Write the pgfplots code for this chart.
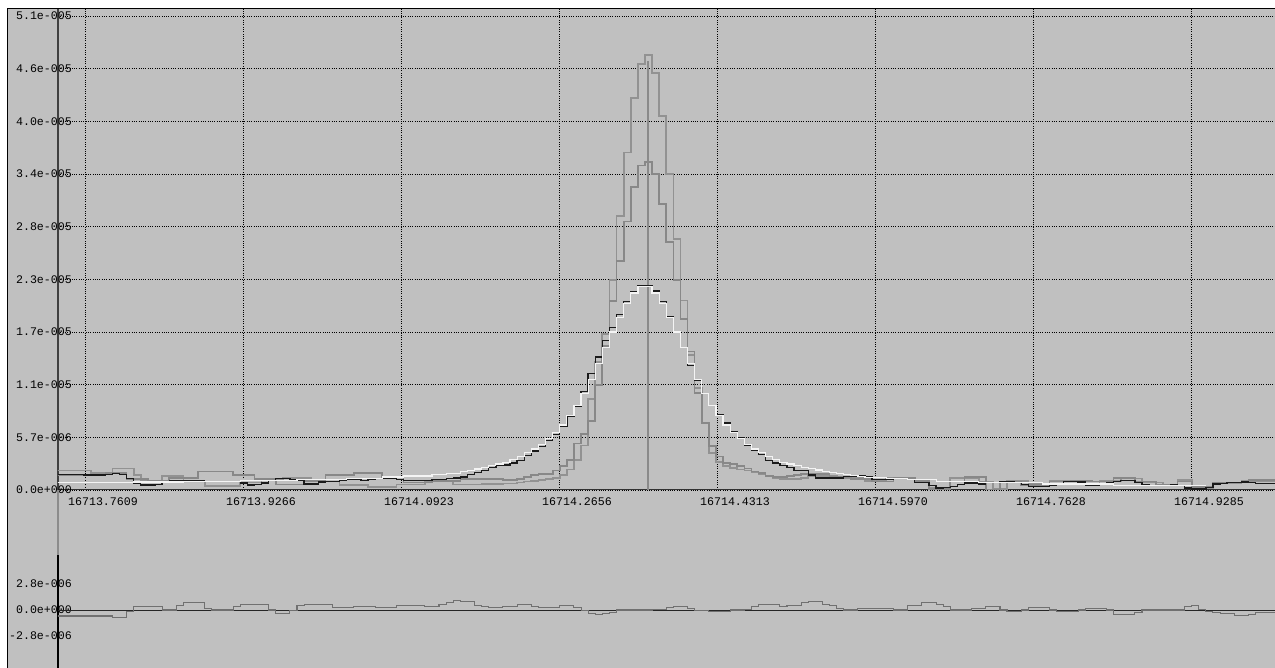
\documentclass[border=0pt]{standalone}
\usepackage{pgfplots}
\pgfplotsset{compat=1.18}
\usepackage{pgfplotstable}
\usepackage{fontspec}
\setmainfont{Liberation Mono}
\definecolor{bgc}{HTML}{C0C0C0}
\definecolor{tallc}{HTML}{929292}
\definecolor{midc}{HTML}{888888}
\definecolor{datac}{HTML}{1A1A1A}
\definecolor{fitc}{HTML}{F4F4F4}
\definecolor{vlc}{HTML}{8A8A8A}
\definecolor{resc}{HTML}{707070}
\pgfplotstableread{
u T M D F R
0.7301 2.1 1.6 1.7 0.8 -0.65
0.7376 2.1 1.6 1.7 0.8 -0.65
0.7450 2.1 1.6 1.7 0.8 -0.65
0.7525 2.1 1.6 1.65 0.8 -0.65
0.7599 2.1 1.6 1.6 0.8 -0.65
0.7674 1.8 1.6 1.6 0.8 -0.65
0.7748 1.8 1.6 1.6 0.8 -0.65
0.7823 1.8 1.8 1.7 0.8 -0.65
0.7897 2.3 1.8 1.75 0.8 -0.8
0.7971 2.3 1.8 1.7 0.8 -0.8
0.8046 2.3 1.2 1.2 0.8 -0.2
0.8120 1.6 1.2 0.7 0.85 0.35
0.8195 1.0 1.2 0.55 0.85 0.35
0.8269 1.0 1.0 0.55 0.85 0.35
0.8344 1.0 1.0 0.6 0.85 0.35
0.8418 1.5 1.0 0.8 0.85 0.0
0.8493 1.5 1.3 1.0 0.85 0.0
0.8567 1.5 1.3 1.0 0.85 0.45
0.8642 0.9 1.3 1.0 0.95 0.8
0.8716 0.9 1.3 1.0 0.95 0.8
0.8791 0.9 2.0 1.0 0.95 0.8
0.8865 0.4 2.0 0.95 0.95 0.2
0.8940 0.4 2.0 0.9 0.95 0.0
0.9014 0.4 2.0 0.9 0.95 0.0
0.9089 0.4 2.0 0.9 0.95 0.0
0.9163 0.4 1.6 0.9 0.95 0.4
0.9238 0.8 1.6 0.75 1.05 0.6
0.9312 0.8 1.6 0.55 1.05 0.6
0.9387 0.8 1.2 0.6 1.05 0.6
0.9461 1.1 1.2 0.75 1.05 0.6
0.9536 1.1 1.2 1.0 1.05 0.0
0.9610 1.1 0.6 1.2 1.05 -0.35
0.9685 1.3 0.6 1.2 1.05 -0.35
0.9759 1.3 0.6 1.15 1.05 -0.1
0.9833 1.3 0.6 1.0 1.15 0.5
0.9908 1.3 1.0 0.65 1.15 0.6
0.9982 0.9 1.0 0.65 1.15 0.6
1.0057 0.9 1.0 0.85 1.15 0.6
1.0131 0.9 1.6 0.9 1.15 0.6
1.0206 0.9 1.6 0.95 1.15 0.3
1.0280 0.5 1.6 1.05 1.15 0.3
1.0355 0.5 1.6 1.1 1.25 0.3
1.0429 0.5 1.8 1.1 1.25 0.4
1.0504 0.5 1.8 1.05 1.25 0.4
1.0578 0.3 1.8 1.1 1.25 0.4
1.0653 0.3 1.8 1.2 1.25 0.3
1.0727 0.3 1.4 1.25 1.4 0.3
1.0802 0.3 1.4 1.25 1.4 0.3
1.0876 0.6 1.4 1.15 1.4 0.5
1.0951 0.6 0.8 1.05 1.5 0.5
1.1025 0.6 0.8 1.0 1.5 0.5
1.1100 0.6 0.8 1.0 1.5 0.5
1.1174 0.9 0.8 1.05 1.5 0.4
1.1249 0.9 1.0 1.15 1.65 0.4
1.1323 0.9 1.0 1.15 1.65 0.6
1.1398 0.9 1.0 1.2 1.8 0.85
1.1472 0.6 1.0 1.3 1.8 1.0
1.1547 0.6 1.2 1.4 1.95 0.95
1.1621 0.6 1.2 1.65 2.1 0.9
1.1695 0.6 1.2 1.85 2.25 0.5
1.1770 0.65 1.2 2.1 2.4 0.35
1.1844 0.65 1.2 2.45 2.6 0.3
1.1919 0.65 1.2 2.65 2.8 0.3
1.1993 0.7 1.1 2.7 3.0 0.35
1.2068 0.7 1.1 2.9 3.3 0.35
1.2142 0.8 1.2 3.2 3.6 0.6
1.2217 0.9 1.4 3.7 4.0 0.6
1.2291 1.0 1.6 4.2 4.4 0.4
1.2366 1.1 1.7 4.7 4.9 0.3
1.2440 1.2 1.7 5.3 5.5 0.3
1.2515 1.3 2.1 6.0 6.2 0.3
1.2589 1.6 2.6 6.8 7.0 0.45
1.2664 2.2 3.2 7.9 8.0 0.45
1.2738 3.2 5.0 9.0 9.1 0.25
1.2813 4.8 6.0 10.6 10.4 -0.1
1.2887 9.8 7.4 12.5 11.9 -0.4
1.2962 13.8 11.3 14.3 13.6 -0.5
1.3036 16.8 15.5 16.1 15.3 -0.4
1.3111 22.6 20.3 17.5 17.0 -0.3
1.3185 29.5 24.6 18.9 18.6 0.0
1.3260 36.3 28.9 20.3 20.1 0.0
1.3334 42.2 32.6 21.3 21.2 0.0
1.3409 45.8 34.9 22.0 21.9 0.0
1.3483 46.8 35.3 22.0 21.9 0.0
1.3557 44.9 34.0 21.4 21.2 0.05
1.3632 40.2 30.8 20.3 20.1 0.05
1.3706 34.0 26.7 18.7 18.6 0.3
1.3781 27.0 22.6 17.0 17.0 0.35
1.3855 20.4 18.4 15.3 15.3 0.35
1.3930 14.5 14.9 13.4 13.6 0.15
1.4004 11.0 10.4 11.8 11.9 -0.05
1.4079 7.2 7.2 10.4 10.4 -0.05
1.4153 4.0 4.7 9.1 9.1 -0.2
1.4228 3.0 3.6 8.1 8.0 -0.2
1.4302 2.6 2.9 7.2 7.0 -0.2
1.4377 2.4 2.8 6.3 6.2 0.0
1.4451 2.2 2.6 5.6 5.5 0.0
1.4526 2.1 2.3 4.8 4.9 0.1
1.4600 1.9 2.0 4.3 4.4 0.4
1.4675 1.7 1.8 3.8 4.0 0.6
1.4749 1.5 1.5 3.2 3.6 0.6
1.4824 1.3 1.4 2.9 3.3 0.6
1.4898 1.2 1.4 2.6 3.0 0.4
1.4973 1.2 1.5 2.4 2.8 0.5
1.5047 1.2 1.6 2.1 2.6 0.5
1.5122 1.3 1.7 2.1 2.45 0.8
1.5196 1.5 1.7 1.6 2.3 0.9
1.5271 1.5 1.7 1.3 2.15 0.9
1.5345 1.5 1.7 1.3 2.0 0.6
1.5420 1.5 1.4 1.3 1.85 0.5
1.5494 1.3 1.4 1.3 1.75 0.2
1.5568 1.3 1.4 1.45 1.65 0.0
1.5643 1.3 1.2 1.5 1.55 0.0
1.5717 1.3 1.2 1.55 1.45 0.15
1.5792 1.0 1.2 1.4 1.35 0.15
1.5866 1.0 0.9 1.1 1.35 0.15
1.5941 1.0 0.9 1.1 1.35 0.15
1.6015 1.3 0.9 1.1 1.25 0.15
1.6090 1.3 1.3 1.2 1.25 0.0
1.6164 1.3 1.3 1.2 1.25 0.0
1.6239 1.3 1.3 1.1 1.1 0.45
1.6313 0.9 1.0 0.8 1.1 0.45
1.6388 0.9 1.0 0.8 1.1 0.85
1.6462 0.2 0.1 0.5 1.1 0.85
1.6537 0.2 0.1 0.2 0.95 0.6
1.6611 0.2 0.1 0.25 0.95 0.4
1.6686 1.3 0.9 0.35 0.95 0.0
1.6760 1.3 0.9 0.6 0.95 0.0
1.6835 1.3 1.4 0.75 0.95 0.0
1.6909 1.3 1.4 0.75 0.95 0.2
1.6984 0.9 1.4 0.65 0.8 0.2
1.7058 0.9 0.0 0.8 0.8 0.35
1.7133 0.1 0.0 0.8 0.8 0.35
1.7207 0.1 0.9 0.85 0.8 0.0
1.7281 1.0 0.9 0.85 0.8 -0.15
1.7356 1.0 0.9 0.8 0.8 -0.15
1.7430 1.0 0.55 0.6 0.8 0.0
1.7505 0.7 0.55 0.4 0.8 0.3
1.7579 0.7 0.55 0.35 0.8 0.3
1.7654 0.7 0.55 0.35 0.65 0.3
1.7728 0.95 0.9 0.5 0.65 0.0
1.7803 0.95 0.9 0.7 0.65 -0.15
1.7877 0.95 0.9 0.9 0.65 -0.15
1.7952 0.95 1.0 0.9 0.65 -0.15
1.8026 0.7 1.0 0.85 0.65 0.0
1.8101 0.7 1.0 0.5 0.65 0.2
1.8175 0.7 0.9 0.5 0.65 0.2
1.8250 1.0 0.9 0.6 0.65 0.15
1.8324 1.0 0.9 0.8 0.65 0.0
1.8399 1.0 1.3 0.95 0.5 -0.45
1.8473 1.25 1.3 1.0 0.5 -0.45
1.8548 1.25 1.3 1.0 0.5 -0.45
1.8622 1.25 0.9 0.8 0.5 -0.25
1.8697 0.8 0.9 0.6 0.5 0.0
1.8771 0.8 0.9 0.45 0.5 0.0
1.8846 0.8 0.6 0.45 0.5 0.0
1.8920 0.6 0.6 0.5 0.5 0.0
1.8995 0.6 0.6 0.55 0.5 0.0
1.9069 1.1 0.9 0.5 0.5 0.0
1.9143 1.1 0.9 0.2 0.5 0.4
1.9218 0.2 0.3 0.1 0.5 0.5
1.9292 0.2 0.3 0.1 0.5 0.1
1.9367 0.2 0.3 0.3 0.5 -0.2
1.9441 0.7 0.8 0.65 nan -0.3
1.9516 0.7 0.8 0.7 nan -0.4
1.9590 0.7 0.8 0.8 nan -0.4
1.9665 0.7 0.8 0.8 nan -0.55
1.9739 1.0 0.8 0.85 nan -0.55
1.9814 1.0 1.05 0.8 nan -0.45
1.9888 1.0 1.05 0.7 nan -0.3
1.9963 1.0 1.05 0.7 nan -0.3
2.0037 1.0 1.05 0.7 nan -0.3
2.0112 1.0 1.05 0.7 nan -0.3
}\spec

\pgfplotsset{
  specbase/.style={
    anchor=south west, scale only axis, width=1217pt,
    xmin=0.7326, xmax=2.0092,
    major tick length=0pt,
    tick label style={font=\fontsize{11.6}{12}\selectfont, inner sep=0pt, text=black},
    yticklabel style={anchor=east, xshift=14pt},
    unbounded coords=jump,
  }
}

\begin{document}
\begin{tikzpicture}
\useasboundingbox (0pt,0pt) rectangle (1275pt,668pt);
\fill[bgc] (7pt,-3pt) rectangle (1280pt,659pt);
\draw[black, line width=1pt] (7pt,-3pt) -- (7pt,659pt) -- (1280pt,659pt);

\begin{axis}[specbase,
  at={(58pt,178pt)}, height=481pt,
  ymin=0, ymax=51.75,
  axis x line*=bottom, axis y line*=left,
  x axis line style={draw=black!80, line width=1pt, -},
  y axis line style={draw=black!75, line width=1.3pt, -},
  xtick={0.7609,0.92664,1.09238,1.25812,1.42386,1.5896,1.75534,1.92108},
  xticklabels={16713.7609,16713.9266,16714.0923,16714.2656,16714.4313,16714.5970,16714.7628,16714.9285},
  ytick={0,5.6667,11.3333,17,22.6667,28.3333,34,39.6667,45.3333,51},
  yticklabels={0.0e+000,5.7e-006,1.1e-005,1.7e-005,2.3e-005,2.8e-005,3.4e-005,4.0e-005,4.6e-005,5.1e-005},
  grid=major,
  major grid style={black, line width=0.7pt, dash pattern=on 1pt off 1.3pt},
  xticklabel style={anchor=center, xshift=18pt, yshift=-12pt},
]
\addplot[const plot mark left, draw=tallc, line width=1.7pt] table[x=u, y=T]{\spec};
\addplot[const plot mark left, draw=midc, line width=1.7pt] table[x=u, y=M]{\spec};
\addplot[draw=vlc, line width=1.9pt] coordinates {(1.3515,0) (1.3515,46.2)};
\addplot[const plot mark left, draw=datac, line width=1.3pt] table[x=u, y=D]{\spec};
\addplot[const plot mark left, draw=fitc, line width=1.2pt] table[x=u, y=F]{\spec};
\end{axis}

\draw[draw=black!45, line width=1.2pt] (58pt,113pt) -- (58pt,178pt);

\begin{axis}[specbase,
  at={(58pt,0pt)}, height=113pt,
  ymin=-6.246, ymax=5.92,
  axis y line*=left, axis x line=none,
  y axis line style={draw=black, line width=1.8pt, -},
  xtick=\empty,
  ytick={-2.8,0,2.8},
  yticklabels={-2.8e-006,0.0e+000,2.8e-006},
]
\addplot[draw=black!85, line width=0.9pt] coordinates {(0.7326,0) (2.0092,0)};
\addplot[const plot mark left, draw=resc, line width=1.1pt] table[x=u, y=R]{\spec};
\end{axis}
\end{tikzpicture}
\end{document}
